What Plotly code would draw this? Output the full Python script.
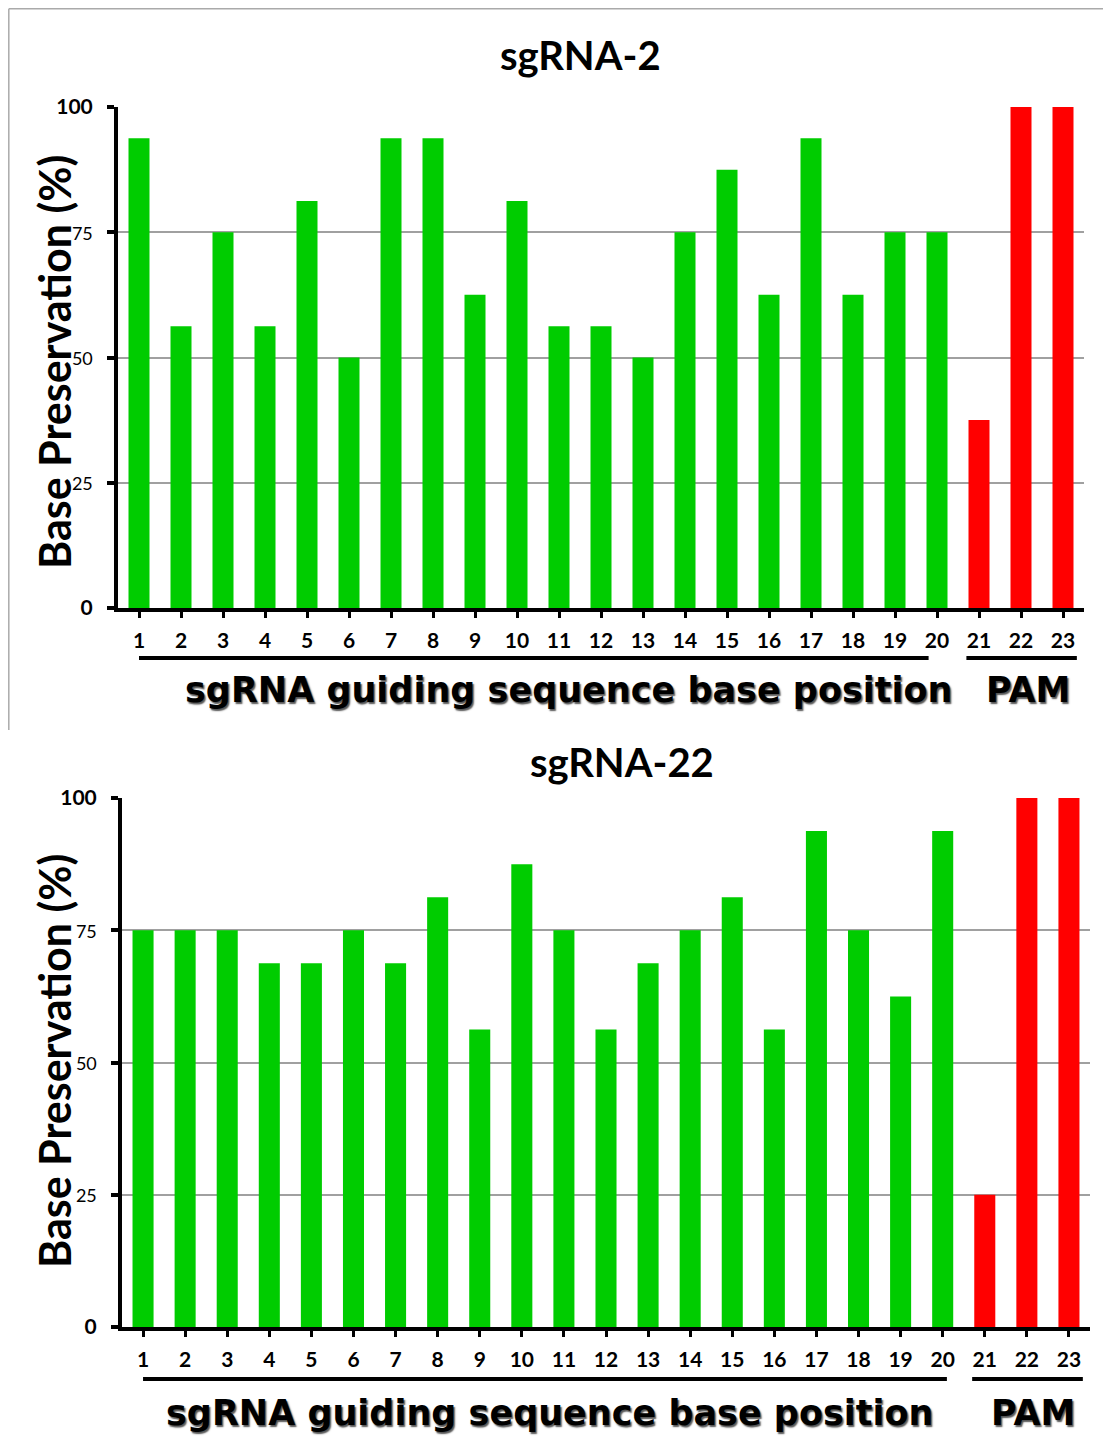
import plotly.graph_objects as go

# page body has an 8px margin; figure fills the remaining viewport
OFF = 8
W, H = 1111 - 2 * OFF, 1450 - 2 * OFF

positions = list(range(1, 24))
pos_labels = [str(p) for p in positions]
sg2_values = [93.75, 56.25, 75, 56.25, 81.25, 50, 93.75, 93.75, 62.5, 81.25, 56.25, 56.25,
              50, 75, 87.5, 62.5, 93.75, 62.5, 75, 75, 37.5, 100, 100]
sg22_values = [75, 75, 75, 68.75, 68.75, 75, 68.75, 81.25, 56.25, 87.5, 75, 56.25,
               68.75, 75, 81.25, 56.25, 93.75, 75, 62.5, 93.75, 25, 100, 100]
n_guide = 20  # guiding sequence positions; remaining are PAM
GREEN = "#00CC00"
RED = "#FF0000"
colors = [GREEN] * n_guide + [RED] * (len(positions) - n_guide)

y_ticks = [0, 25, 50, 75, 100]
y_ticktext = ["<b>0</b>", "<span style='font-size:18px'>25</span>",
              "<span style='font-size:18px'>50</span>",
              "<span style='font-size:18px'>75</span>", "<b>100</b>"]

LATO = "Lato, Open Sans, sans-serif"
DEJAVU = "DejaVu Sans, Liberation Sans, sans-serif"


def px_x(s):
    return (s - OFF) / W


def px_y(s):
    return 1 - (s - OFF) / H


fig = go.Figure()
fig.add_trace(go.Bar(x=positions, y=sg2_values, marker=dict(color=colors, line=dict(width=0)),
                     width=0.5, xaxis="x", yaxis="y", showlegend=False, hoverinfo="x+y"))
fig.add_trace(go.Bar(x=positions, y=sg22_values, marker=dict(color=colors, line=dict(width=0)),
                     width=0.5, xaxis="x2", yaxis="y2", showlegend=False, hoverinfo="x+y"))

xcommon = dict(range=[0.5, 23.5], tickmode="array", tickvals=positions, ticktext=pos_labels,
               showline=True, linecolor="black", linewidth=4, ticks="outside", ticklen=6,
               tickwidth=3, tickcolor="black", showgrid=False, zeroline=False,
               tickfont=dict(family=LATO, size=21, color="black", weight="bold"),
               ticklabelstandoff=5, automargin=False, fixedrange=True)
ycommon = dict(range=[0, 100], tickmode="array", tickvals=y_ticks, ticktext=y_ticktext,
               showline=True, linecolor="black", linewidth=4, ticks="outside", ticklen=7,
               tickwidth=4, tickcolor="black", showgrid=True, gridcolor="#a0a0a0",
               gridwidth=1.5, zeroline=False,
               tickfont=dict(family=LATO, size=21, color="black"),
               ticklabelstandoff=10, automargin=False, fixedrange=True)

fig.update_layout(
    width=W, height=H, margin=dict(l=0, r=0, t=0, b=0, pad=0),
    paper_bgcolor="white", plot_bgcolor="white",
    xaxis=dict(domain=[px_x(118), px_x(1084)], anchor="y", **xcommon),
    yaxis=dict(domain=[px_y(608), px_y(107)], anchor="x", **ycommon),
    xaxis2=dict(domain=[px_x(122), px_x(1090)], anchor="y2", **xcommon),
    yaxis2=dict(domain=[px_y(1327), px_y(798)], anchor="x2", **ycommon),
    bargap=0.5,
)

ann = []
shadow = "1.5px 1.5px 1.5px #555"
C = dict(xref="paper", yref="paper", showarrow=False, xanchor="center", yanchor="middle")
# titles
ann.append(dict(text="<b>sgRNA-2</b>", x=px_x(580), y=px_y(55),
                font=dict(family=LATO, size=40, color="black"), **C))
ann.append(dict(text="<b>sgRNA-22</b>", x=px_x(622), y=px_y(762),
                font=dict(family=LATO, size=40, color="black"), **C))
# y titles
for yc in (362, 1061):
    ann.append(dict(text="<b>Base Preservation (%)</b>", x=px_x(54), y=px_y(yc), textangle=-90,
                    font=dict(family=LATO, size=43, color="black"), **C))
# x titles
for (xc, yc, px_pam) in ((569, 690, 1028), (550, 1413, 1033)):
    ann.append(dict(text="<b>sgRNA guiding sequence base position</b>", x=px_x(xc), y=px_y(yc),
                    font=dict(family=DEJAVU, size=35, color="black", shadow=shadow), **C))
    ann.append(dict(text="<b>PAM</b>", x=px_x(px_pam), y=px_y(yc),
                    font=dict(family=DEJAVU, size=35, color="black", shadow=shadow), **C))
fig.update_layout(annotations=ann)

shapes = []
# underline brackets (in category coordinates)
for xr, ypx, xend in (("x", 658, 19.8), ("x2", 1379, 20.1)):
    shapes.append(dict(type="line", xref=xr, yref="paper", x0=1, x1=xend,
                       y0=px_y(ypx), y1=px_y(ypx), line=dict(color="black", width=4)))
    shapes.append(dict(type="line", xref=xr, yref="paper", x0=20.7, x1=23.33,
                       y0=px_y(ypx), y1=px_y(ypx), line=dict(color="black", width=4)))
# border of top panel
shapes.append(dict(type="line", xref="paper", yref="paper", x0=px_x(8.8), x1=1,
                   y0=px_y(8.8), y1=px_y(8.8), line=dict(color="#aaaaaa", width=1.5)))
shapes.append(dict(type="line", xref="paper", yref="paper", x0=px_x(8.8), x1=px_x(8.8),
                   y0=px_y(8.8), y1=px_y(730), line=dict(color="#aaaaaa", width=1.5)))
fig.update_layout(shapes=shapes)

fig.write_html("out.html")
